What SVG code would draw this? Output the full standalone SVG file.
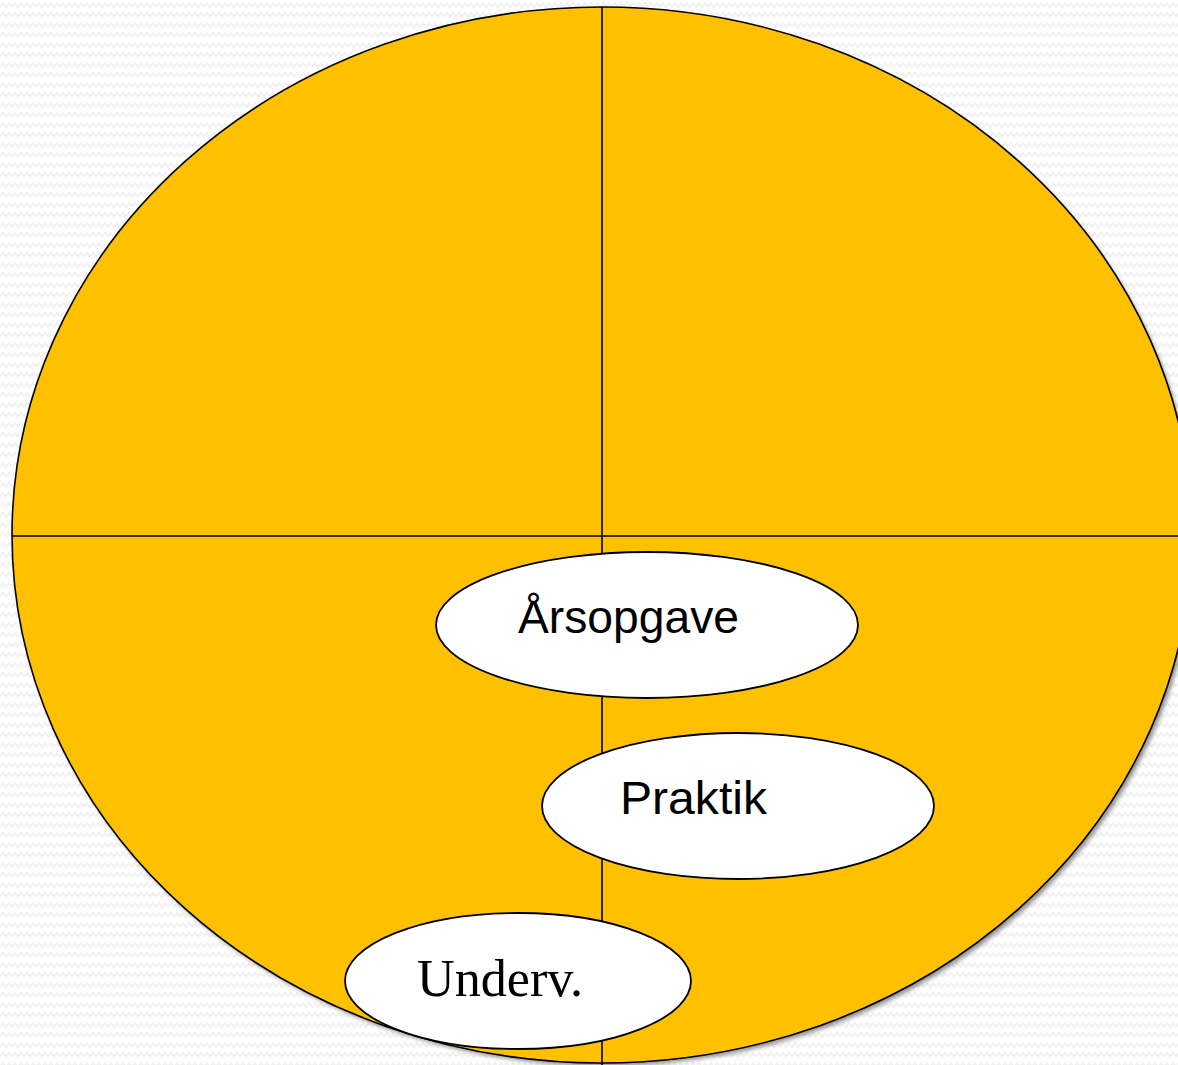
<svg xmlns="http://www.w3.org/2000/svg" width="1178" height="1065" viewBox="0 0 1178 1065">
<defs>
<pattern id="bg" width="12" height="10" patternUnits="userSpaceOnUse">
<rect width="12" height="10" fill="#ffffff"/>
<polyline points="0,7 3,3 6,7 9,3 12,7" fill="none" stroke="#f1f1f1" stroke-width="2"/>
</pattern>
<filter id="blur" x="-5%" y="-5%" width="110%" height="110%"><feGaussianBlur stdDeviation="2"/></filter>
<style>
.big{fill:#FFC000;stroke:#000;stroke-width:1.6}
.node{fill:#fff;stroke:#000;stroke-width:1.8}
.div{stroke:#000;stroke-width:1.6;fill:none}
.sans{font-family:"Liberation Sans",Arial,sans-serif;font-size:46px;fill:#000}
.serif{font-family:"Liberation Serif","Times New Roman",serif;font-size:52px;fill:#000}
</style>
</defs>
<rect width="1178" height="1065" fill="url(#bg)"/>
<g id="circle">
<ellipse cx="605" cy="539" rx="590" ry="527" fill="#666" opacity="0.7" filter="url(#blur)"/>
<ellipse class="big" cx="602" cy="535" rx="590" ry="528"/>
</g>
<g id="connectors">
<line class="div" x1="12" y1="536" x2="1178" y2="536"/>
<line class="div" x1="602" y1="7" x2="602" y2="1065"/>
</g>
<g id="node-arsopgave">
<ellipse class="node" cx="647" cy="625" rx="211" ry="73"/>
<text class="sans" x="518" y="633" textLength="221" lengthAdjust="spacingAndGlyphs">Årsopgave</text>
</g>
<g id="node-praktik">
<ellipse class="node" cx="738" cy="806" rx="196" ry="73"/>
<text class="sans" x="620" y="814" textLength="147" lengthAdjust="spacingAndGlyphs">Praktik</text>
</g>
<g id="node-underv">
<ellipse class="node" cx="518" cy="981" rx="173" ry="68"/>
<text class="serif" x="417" y="996" textLength="166" lengthAdjust="spacingAndGlyphs">Underv.</text>
</g>
</svg>
